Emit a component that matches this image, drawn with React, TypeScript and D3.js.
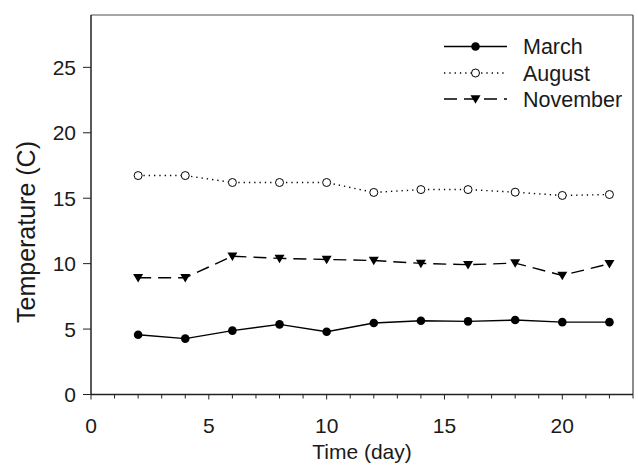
import React from "react";
import * as d3 from "d3";

const days = [2, 4, 6, 8, 10, 12, 14, 16, 18, 20, 22];
const march = [4.57, 4.27, 4.88, 5.36, 4.8, 5.46, 5.64, 5.59, 5.69, 5.53, 5.53];
const august = [16.73, 16.73, 16.2, 16.2, 16.2, 15.44, 15.66, 15.66, 15.46, 15.21, 15.28];
const november = [8.92, 8.92, 10.57, 10.4, 10.32, 10.24, 10.02, 9.92, 10.04, 9.1, 9.99];
const xMajorTicks = [0, 5, 10, 15, 20];
const xMinorTicks = d3.range(0, 24, 1);
const yTicks = [0, 5, 10, 15, 20, 25];
const seriesNames = ["March", "August", "November"];

const W = 638;
const H = 465;
const left = 91;
const right = 633;
const top = 15;
const bottom = 394.5;
const FONT = "'Liberation Sans', Arial, Helvetica, sans-serif";
const TXT = "#1a1a1a";

export default function App() {
  const x = d3.scaleLinear().domain([0, 23]).range([left, right]);
  const y = d3.scaleLinear().domain([0, 29]).range([bottom, top]);
  const line = d3
    .line<[number, number]>()
    .x((d) => x(d[0]))
    .y((d) => y(d[1]));
  const mk = (vals: number[]) => days.map((d, i) => [d, vals[i]] as [number, number]);

  const tri = (cx: number, cy: number, s = 5) =>
    `M${cx - s},${cy - s * 0.75}L${cx + s},${cy - s * 0.75}L${cx},${cy + s * 0.95}Z`;

  const styles = [
    { dash: undefined as string | undefined, marker: "filled" },
    { dash: "1.3,4", marker: "open" },
    { dash: "13,7", marker: "tri" },
  ];
  const data = [march, august, november];

  const marker = (kind: string, cx: number, cy: number, key: string) => {
    if (kind === "filled") return <circle key={key} cx={cx} cy={cy} r={4.3} fill="#000" />;
    if (kind === "open")
      return <circle key={key} cx={cx} cy={cy} r={4} fill="#fff" stroke="#000" strokeWidth={1} />;
    return <path key={key} d={tri(cx, cy)} fill="#000" />;
  };

  const legX0 = 444;
  const legX1 = 507;
  const legY = [46.5, 73, 99];

  return (
    <svg
      width={W}
      height={H}
      style={{ position: "absolute", left: 0, top: 0, background: "#fff" }}
      fontFamily={FONT}
    >
      <rect x={0} y={0} width={W} height={H} fill="#fff" />
      <line x1={left} x2={right} y1={top} y2={top} stroke="#888" strokeWidth={1.5} />
      <line x1={right} x2={right} y1={top} y2={bottom} stroke="#666" strokeWidth={1.5} />
      <line x1={left} x2={right} y1={bottom} y2={bottom} stroke="#222" strokeWidth={1.5} />
      <line x1={left} x2={left} y1={top} y2={bottom} stroke="#222" strokeWidth={1.5} />
      {xMinorTicks.map((t) => (
        <line
          key={"xm" + t}
          x1={x(t)}
          x2={x(t)}
          y1={bottom}
          y2={bottom + (t % 5 === 0 ? 5 : 4)}
          stroke="#222"
          strokeWidth={1}
        />
      ))}
      {xMajorTicks.map((t) => (
        <text key={"xl" + t} x={x(t)} y={433} textAnchor="middle" fontSize={21} fill={TXT}>
          {t}
        </text>
      ))}
      {yTicks.map((t) => (
        <g key={"y" + t}>
          <line x1={left - 8} x2={left} y1={y(t)} y2={y(t)} stroke="#222" strokeWidth={1} />
          <text x={76} y={y(t) + 7.5} textAnchor="end" fontSize={21} fill={TXT}>
            {t}
          </text>
        </g>
      ))}
      <text x={(left + right) / 2} y={459} textAnchor="middle" fontSize={21} fill={TXT}>
        Time (day)
      </text>
      <text
        transform={`translate(35, 232) rotate(-90)`}
        textAnchor="middle"
        fontSize={25}
        fill={TXT}
      >
        Temperature (C)
      </text>
      {data.map((vals, si) => (
        <g key={"s" + si}>
          <path
            d={line(mk(vals)) || ""}
            fill="none"
            stroke="#000"
            strokeWidth={1.4}
            strokeDasharray={styles[si].dash}
          />
          {mk(vals).map((p, i) => marker(styles[si].marker, x(p[0]), y(p[1]), `m${si}-${i}`))}
        </g>
      ))}
      {seriesNames.map((name, i) => (
        <g key={"leg" + i}>
          <line
            x1={legX0}
            x2={legX1}
            y1={legY[i]}
            y2={legY[i]}
            stroke="#000"
            strokeWidth={1.4}
            strokeDasharray={styles[i].dash}
          />
          {marker(styles[i].marker, (legX0 + legX1) / 2, legY[i], "lm" + i)}
          <text x={523} y={legY[i] + 7.5} fontSize={21.5} fill={TXT}>
            {name}
          </text>
        </g>
      ))}
    </svg>
  );
}
